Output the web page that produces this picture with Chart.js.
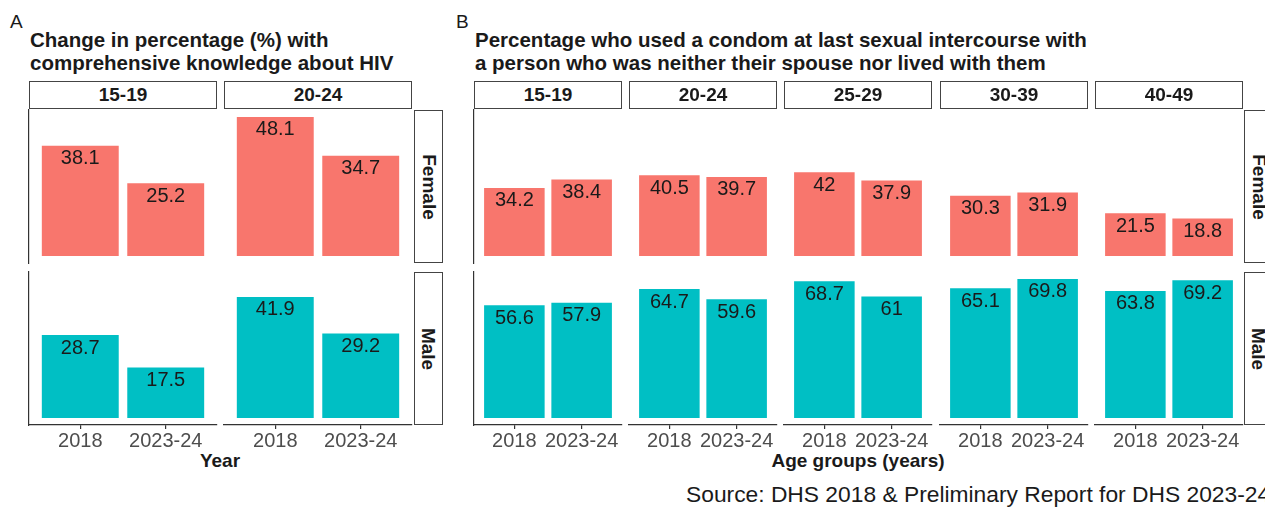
<!DOCTYPE html>
<html>
<head>
<meta charset="utf-8">
<script src="https://cdn.jsdelivr.net/npm/chart.js@4.4.1/dist/chart.umd.min.js"></script>
<style>
body{margin:0;width:1265px;height:507px;overflow:hidden;background:#fff;position:relative;font-family:"Liberation Sans",Arial,Helvetica,sans-serif;color:#1a1a1a}
.abs{position:absolute;white-space:nowrap}
.tag{font-size:19px;line-height:20px}
.title{font-size:20.5px;font-weight:bold;line-height:23px}
.axt{font-size:19px;font-weight:bold;line-height:20px;transform:translateX(-50%)}
.strip{position:absolute;box-sizing:border-box;border:1.5px solid #444;background:#fff;font-weight:bold;font-size:19px;display:flex;align-items:center;justify-content:center;white-space:nowrap}
.rstrip span{transform:rotate(90deg)}
canvas{position:absolute}
</style>
</head>
<body>
<div class="abs tag" style="left:10px;top:12px">A</div>
<div class="abs title" style="left:30px;top:28px">Change in percentage (%) with<br>comprehensive knowledge about HIV</div>
<div class="abs tag" style="left:456px;top:12px">B</div>
<div class="abs title" style="left:475px;top:28px">Percentage who used a condom at last sexual intercourse with<br>a person who was neither their spouse nor lived with them</div>
<div class="abs axt" style="left:220px;top:451px">Year</div>
<div class="abs axt" style="left:858px;top:451px">Age groups (years)</div>
<div class="abs" style="left:686px;top:482px;font-size:22.8px;line-height:25px">Source: DHS 2018 &amp; Preliminary Report for DHS 2023-24</div>
<script>
var years = ['2018', '2023-24'];
var sexes = ['Female', 'Male'];
var ageA = ['15-19', '20-24'];
var ageB = ['15-19', '20-24', '25-29', '30-39', '40-49'];

// A: comprehensive knowledge about HIV, per age group [2018, 2023-24]
var knowFemale = [[38.1, 25.2], [48.1, 34.7]];
var knowMale = [[28.7, 17.5], [41.9, 29.2]];

// B: condom use at last sex with non-cohabiting partner
var condomFemale = [[34.2, 38.4], [40.5, 39.7], [42, 37.9], [30.3, 31.9], [21.5, 18.8]];
var condomMale = [[56.6, 57.9], [64.7, 59.6], [68.7, 61], [65.1, 69.8], [63.8, 69.2]];

var sexColors = ['#F8766D', '#00BFC4'];
var fontFam = '"Liberation Sans", Arial, Helvetica, sans-serif';

var rowTops = [110, 272];
var panelH = 153;

var barLabels = {
  id: 'barLabels',
  afterDatasetsDraw: function (chart) {
    var ctx = chart.ctx;
    var ds = chart.data.datasets[0];
    ctx.save();
    ctx.font = '20px ' + fontFam;
    ctx.fillStyle = '#1a1a1a';
    ctx.textAlign = 'center';
    ctx.textBaseline = 'middle';
    chart.getDatasetMeta(0).data.forEach(function (bar, i) {
      ctx.fillText(String(ds.data[i].y), bar.x, bar.y + 13);
    });
    ctx.restore();
  }
};

function addDiv(cls, left, top, w, h, text) {
  var d = document.createElement('div');
  d.className = cls;
  d.style.left = left + 'px';
  d.style.top = top + 'px';
  d.style.width = w + 'px';
  d.style.height = h + 'px';
  d.innerHTML = '<span>' + text + '</span>';
  document.body.appendChild(d);
}

function cell(left, top, w, h, vals, color, ymax, firstCol, bottom) {
  var pad = 4, axisH = 34;
  var c = document.createElement('canvas');
  var cw = w + 2 * pad, ch = h + pad + (bottom ? axisH : pad);
  c.width = cw;
  c.height = ch;
  c.style.left = (left - pad) + 'px';
  c.style.top = (top - pad) + 'px';
  c.style.width = cw + 'px';
  c.style.height = ch + 'px';
  document.body.appendChild(c);

  new Chart(c, {
    type: 'bar',
    data: {
      datasets: [{
        data: vals.map(function (v, i) { return {x: i + 1, y: v}; }),
        backgroundColor: color,
        barPercentage: 0.9,
        categoryPercentage: 1
      }]
    },
    options: {
      responsive: false,
      animation: false,
      events: [],
      layout: {padding: {left: pad, right: pad, top: pad, bottom: bottom ? 0 : pad}},
      plugins: {legend: {display: false}, tooltip: {enabled: false}},
      scales: {
        x: {
          type: 'linear',
          min: 0.4,
          max: 2.6,
          offset: false,
          display: bottom,
          afterBuildTicks: function (s) { s.ticks = [{value: 1}, {value: 2}]; },
          afterFit: function (s) { s.height = bottom ? axisH : 0; },
          ticks: {
            callback: function (v) { return years[v - 1]; },
            color: '#4d4d4d',
            font: {size: 20, family: fontFam},
            padding: 0,
            maxRotation: 0,
            autoSkip: false
          },
          grid: {offset: false, drawOnChartArea: false, tickLength: 4, color: '#333', lineWidth: 1.2},
          border: {display: true, color: '#333', width: 1.2}
        },
        y: {
          min: -0.05 * ymax,
          max: 1.05 * ymax,
          ticks: {display: false},
          grid: {display: false},
          border: {display: firstCol, color: '#333', width: 1.2},
          afterFit: function (s) { s.width = 0; }
        }
      }
    },
    plugins: [barLabels]
  });
}

// panel A
var leftsA = [29, 224], wA = 188;
var maxA = Math.max.apply(null, knowFemale.concat(knowMale).reduce(function (a, b) { return a.concat(b); }, []));
[knowFemale, knowMale].forEach(function (rows, r) {
  rows.forEach(function (vals, i) {
    cell(leftsA[i], rowTops[r], wA, panelH, vals, sexColors[r], maxA, i === 0, r === 1);
  });
  addDiv('strip rstrip', 414, rowTops[r], 29, panelH, sexes[r]);
});
ageA.forEach(function (a, i) { addDiv('strip', leftsA[i], 81, wA, 28, a); });

// panel B
var wB = 148;
var leftsB = ageB.map(function (a, i) { return Math.round(474 + i * 155.2); });
var maxB = Math.max.apply(null, condomFemale.concat(condomMale).reduce(function (a, b) { return a.concat(b); }, []));
[condomFemale, condomMale].forEach(function (rows, r) {
  rows.forEach(function (vals, i) {
    cell(leftsB[i], rowTops[r], wB, panelH, vals, sexColors[r], maxB, i === 0, r === 1);
  });
  addDiv('strip rstrip', 1244, rowTops[r], 29, panelH, sexes[r]);
});
ageB.forEach(function (a, i) { addDiv('strip', leftsB[i], 81, wB, 28, a); });
</script>
</body>
</html>
